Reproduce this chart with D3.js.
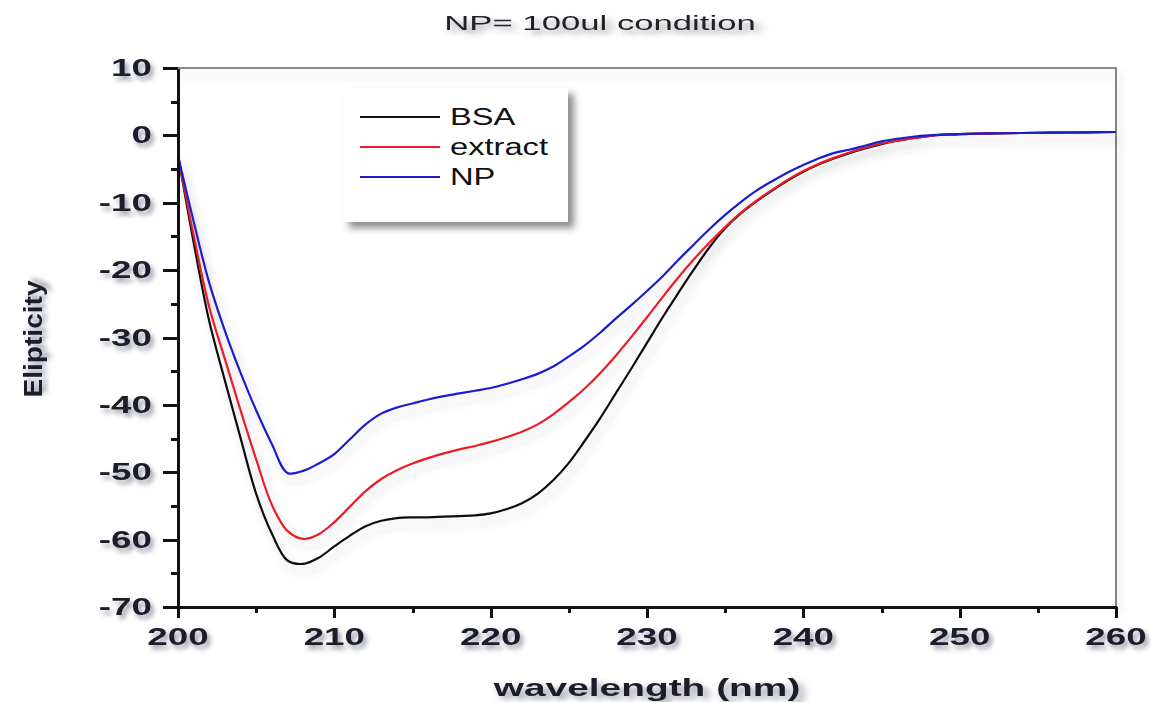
<!DOCTYPE html>
<html>
<head>
<meta charset="utf-8">
<style>
body { margin: 0; background: #fff; }
text { font-family: "Liberation Sans", Arial, sans-serif; }
.axis path, .axis line { stroke: #111; stroke-width: 3px; shape-rendering: crispEdges; }
.lbl { font-weight: bold; font-size: 23px; fill: #1c1c2a; }
.curve { fill: none; stroke-width: 2.2px; }
</style>
</head>
<body>
<div id="chart"></div>

<script src="https://cdn.jsdelivr.net/npm/d3@7"></script>

<script>

// wavelength (nm) and ellipticity
var wavelength = [200,201,202,203,204,205,206,207,208,209,
  210,211,212,213,214,215,216,217,218,219,
  220,221,222,223,224,225,226,227,228,229,
  230,231,232,233,234,235,236,237,238,239,
  240,241,242,243,244,245,246,247,248,249,
  250,252,254,256,258,260];

var bsa = [-3,-15.9,-27.6,-36.4,-44.9,-53.2,-59.1,-63.1,-63.6,-62.7,
  -61,-59.4,-58,-57.2,-56.8,-56.7,-56.7,-56.6,-56.5,-56.4,
  -56.1,-55.5,-54.6,-53.2,-51.2,-48.6,-45.4,-42,-38.3,-34.6,
  -30.8,-27,-23.4,-19.9,-16.6,-13.8,-11.6,-9.8,-8.2,-6.7,
  -5.4,-4.3,-3.4,-2.6,-1.9,-1.3,-0.8,-0.4,-0.1,0.1,
  0.2,0.3,0.35,0.4,0.45,0.5];

var extract = [-3,-14.8,-25.5,-33.2,-40.8,-48.1,-54.8,-58.7,-59.9,-59.2,
  -57.4,-55.1,-52.8,-51,-49.7,-48.7,-47.9,-47.2,-46.6,-46.1,
  -45.5,-44.8,-44,-42.9,-41.4,-39.6,-37.6,-35.3,-32.7,-29.9,
  -27,-24,-21.1,-18.4,-15.9,-13.6,-11.5,-9.7,-8.1,-6.6,
  -5.3,-4.2,-3.3,-2.5,-1.8,-1.2,-0.8,-0.4,-0.1,0.1,
  0.2,0.3,0.35,0.4,0.45,0.5];

var np = [-3,-12.8,-21.9,-29,-35.2,-40.8,-45.8,-50.1,-49.8,-48.7,
  -47.3,-45.1,-42.9,-41.3,-40.4,-39.8,-39.2,-38.7,-38.3,-37.9,
  -37.5,-36.9,-36.2,-35.4,-34.3,-32.8,-31.2,-29.3,-27.2,-25.2,
  -23.1,-20.9,-18.5,-16.2,-13.9,-11.8,-9.9,-8.2,-6.8,-5.5,
  -4.4,-3.4,-2.6,-2.1,-1.5,-0.9,-0.5,-0.2,0,0.1,
  0.2,0.3,0.35,0.4,0.45,0.5];

var seriesNames = ["BSA", "extract", "NP"];
var seriesColors = ["#111111", "#ea1f28", "#1d1dcf"];

var xTicks = [200, 210, 220, 230, 240, 250, 260];
var xMinor = [205, 215, 225, 235, 245, 255];
var yTicks = [10, 0, -10, -20, -30, -40, -50, -60, -70];
var yMinor = [5, -5, -15, -25, -35, -45, -55, -65];

var title = "NP= 100ul condition";
var xTitle = "wavelength (nm)";
var yTitle = "Elipticity";

var width = 1151, height = 702;
var plotLeft = 178, plotRight = 1116, plotTop = 68, plotBottom = 607;

var svg = d3.select("#chart").append("svg")
    .attr("width", width)
    .attr("height", height);

var defs = svg.append("defs");
defs.append("filter").attr("id", "txtShadow")
    .attr("x", "-20%").attr("y", "-40%").attr("width", "150%").attr("height", "190%")
  .append("feDropShadow")
    .attr("dx", 3).attr("dy", 4).attr("stdDeviation", 2.6)
    .attr("flood-color", "#3c4660").attr("flood-opacity", 0.55);
defs.append("filter").attr("id", "lineShadow")
    .attr("x", "-10%").attr("y", "-10%").attr("width", "130%").attr("height", "130%")
  .append("feDropShadow")
    .attr("dx", 4).attr("dy", 7).attr("stdDeviation", 4)
    .attr("flood-color", "#444").attr("flood-opacity", 0.22);
defs.append("filter").attr("id", "boxShadow")
    .attr("x", "-10%").attr("y", "-10%").attr("width", "130%").attr("height", "130%")
  .append("feDropShadow")
    .attr("dx", 6).attr("dy", 6).attr("stdDeviation", 3.5)
    .attr("flood-color", "#333").attr("flood-opacity", 0.55);

var x = d3.scaleLinear().domain([200, 260]).range([plotLeft, plotRight]);
var y = d3.scaleLinear().domain([-70, 10]).range([plotBottom, plotTop]);

// frame (top + right), thin grey with soft shadow
svg.append("path")
    .attr("d", "M" + x(200) + "," + y(10) + "H" + x(260) + "V" + y(-70))
    .attr("fill", "none")
    .attr("stroke", "#666")
    .attr("stroke-width", 1.6)
    .attr("filter", "url(#lineShadow)");

// curves
var line = d3.line()
    .x(function(d) { return x(d[0]); })
    .y(function(d) { return y(d[1]); })
    .curve(d3.curveCatmullRom.alpha(0.5));

var allSeries = [bsa, extract, np];
svg.append("g").attr("filter", "url(#lineShadow)")
  .selectAll("path")
  .data(allSeries)
  .enter().append("path")
    .attr("class", "curve")
    .attr("stroke", function(d, i) { return seriesColors[i]; })
    .attr("d", function(d) { return line(wavelength.map(function(w, j) { return [w, d[j]]; })); });

// axes
svg.append("g").attr("class", "axis")
    .attr("transform", "translate(0," + plotBottom + ")")
    .call(d3.axisBottom(x).tickValues(xTicks).tickSize(11).tickSizeOuter(0).tickFormat(""));
svg.append("g").attr("class", "axis")
    .attr("transform", "translate(0," + plotBottom + ")")
    .call(d3.axisBottom(x).tickValues(xMinor).tickSize(6).tickSizeOuter(0).tickFormat(""));
svg.append("g").attr("class", "axis")
    .attr("transform", "translate(" + plotLeft + ",0)")
    .call(d3.axisLeft(y).tickValues(yTicks).tickSize(15).tickSizeOuter(0).tickFormat(""));
svg.append("g").attr("class", "axis")
    .attr("transform", "translate(" + plotLeft + ",0)")
    .call(d3.axisLeft(y).tickValues(yMinor).tickSize(7).tickSizeOuter(0).tickFormat(""));

// tick labels (stretched horizontally like the source image)
var sx = 1.6;
svg.append("g").attr("filter", "url(#txtShadow)")
  .selectAll("text")
  .data(xTicks)
  .enter().append("text")
    .attr("class", "lbl")
    .attr("text-anchor", "middle")
    .attr("transform", function(d) { return "translate(" + x(d) + ",645) scale(" + sx + ",1)"; })
    .text(function(d) { return d; });

svg.append("g").attr("filter", "url(#txtShadow)")
  .selectAll("text")
  .data(yTicks)
  .enter().append("text")
    .attr("class", "lbl")
    .attr("text-anchor", "end")
    .attr("transform", function(d) { return "translate(152," + (y(d) + 8) + ") scale(" + sx + ",1)"; })
    .text(function(d) { return d; });

// axis titles
svg.append("text")
    .attr("class", "lbl")
    .attr("filter", "url(#txtShadow)")
    .attr("text-anchor", "middle")
    .attr("transform", "translate(647,696) scale(1.62,1)")
    .style("font-size", "24px")
    .text(xTitle);

svg.append("text")
    .attr("class", "lbl")
    .attr("filter", "url(#txtShadow)")
    .attr("text-anchor", "middle")
    .attr("transform", "translate(42,339) rotate(-90)")
    .style("font-size", "25px")
    .attr("textLength", 117)
    .attr("lengthAdjust", "spacingAndGlyphs")
    .text(yTitle);

svg.append("text")
    .attr("filter", "url(#txtShadow)")
    .attr("text-anchor", "middle")
    .attr("transform", "translate(600,30) scale(1.78,1)")
    .style("font-size", "19.5px")
    .style("fill", "#222")
    .text(title);

// legend
var legend = svg.append("g").attr("transform", "translate(343,88)");
legend.append("rect")
    .attr("width", 225)
    .attr("height", 134)
    .attr("fill", "#fff")
    .attr("filter", "url(#boxShadow)");

var item = legend.selectAll("g.item")
  .data(seriesNames)
  .enter().append("g")
    .attr("class", "item")
    .attr("transform", function(d, i) { return "translate(0," + (29 + i * 30) + ")"; });

item.append("line")
    .attr("x1", 17).attr("x2", 97)
    .attr("stroke", function(d, i) { return seriesColors[i]; })
    .attr("stroke-width", 2);

item.append("text")
    .attr("transform", "translate(107,8) scale(1.42,1)")
    .style("font-size", "23px")
    .style("fill", "#111")
    .text(function(d) { return d; });

</script>
</body>
</html>
